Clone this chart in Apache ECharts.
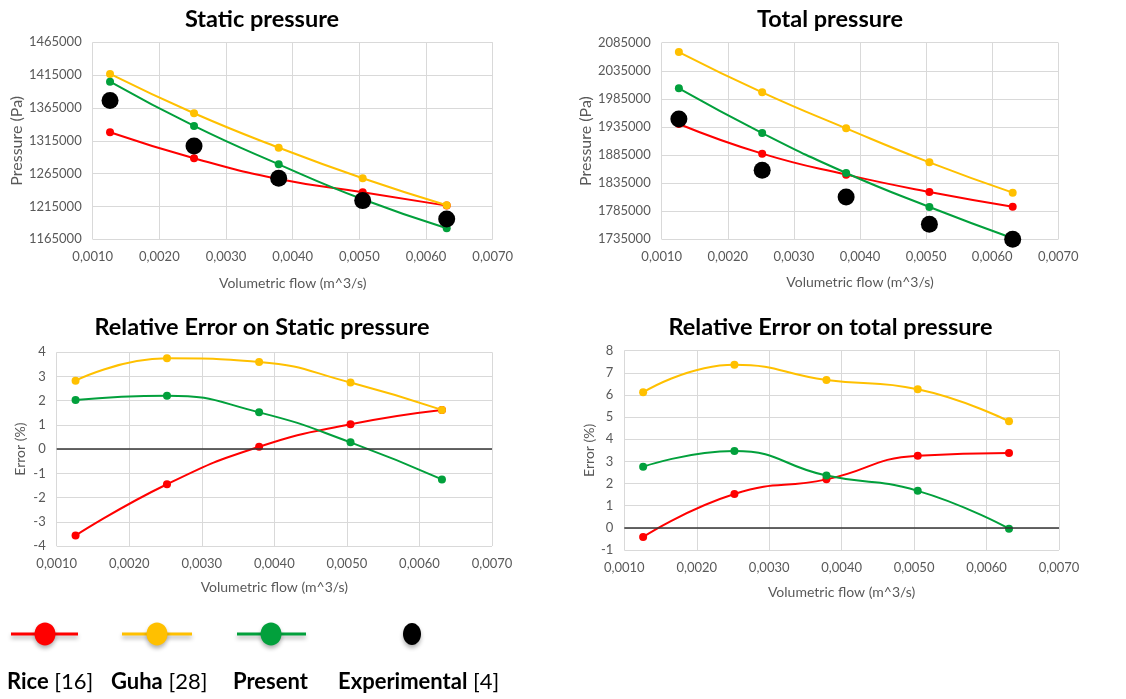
<!DOCTYPE html>
<html>
<head>
<meta charset="utf-8">
<script src="https://cdn.jsdelivr.net/npm/echarts@6/dist/echarts.min.js"></script>
<style>
html,body{margin:0;padding:0;background:#fff;}
#c{width:1126px;height:699px;}
</style>
</head>
<body>
<div id="c"></div>
<script>
// ---------- data ----------
const seriesNames = ['Rice', 'Guha', 'Present', 'Experimental'];
const seriesRefs = ['[16]', '[28]', '', '[4]'];
const xFlow = [0.00126, 0.00252, 0.00379, 0.00505, 0.00631];

const staticRice    = [1328000, 1288400, 1256900, 1236600, 1216300];
const staticGuha    = [1416800, 1356900, 1304600, 1257900, 1216800];
const staticPresent = [1405100, 1337600, 1279200, 1225900, 1181800];
const staticExp     = [1376200, 1307100, 1257900, 1223900, 1196000];

const totalRice    = [1940300, 1887500, 1850100, 1819300, 1793100];
const totalGuha    = [2068400, 1996600, 1932500, 1872000, 1818000];
const totalPresent = [2003700, 1924200, 1853100, 1792600, 1736800];
const totalExp     = [1949200, 1857800, 1810300, 1761700, 1735000];

const errStaticRice    = [-3.57, -1.45, 0.10, 1.03, 1.62];
const errStaticGuha    = [2.83, 3.75, 3.60, 2.75, 1.62];
const errStaticPresent = [2.03, 2.21, 1.52, 0.28, -1.25];

const errTotalRice    = [-0.41, 1.53, 2.19, 3.26, 3.38];
const errTotalGuha    = [6.12, 7.37, 6.68, 6.26, 4.81];
const errTotalPresent = [2.76, 3.47, 2.36, 1.67, -0.04];

const panelTitles = ['Static pressure', 'Total pressure', 'Relative Error on Static pressure', 'Relative Error on total pressure'];
const xAxisName = 'Volumetric flow (m^3/s)';
const yAxisNames = ['Pressure (Pa)', 'Pressure (Pa)', 'Error (%)', 'Error (%)'];
const xTickRange = [0.001, 0.007, 0.001];
const yTickRanges = [[1165000, 1465000, 50000], [1735000, 2085000, 50000], [-4, 4, 1], [-1, 8, 1]];

// ---------- styles ----------
const colors = ['#ff0000', '#ffc000', '#02a03c', '#000000'];
const FONT = 'Lato';
const labelGray = '#595959';
const gridGray = '#d9d9d9';

const grids = [
  {left: 92.7, top: 42.3, width: 400, height: 197},
  {left: 661.7, top: 42.7, width: 396.6, height: 196.6},
  {left: 56.7, top: 352.3, width: 435.3, height: 193.7},
  {left: 624.3, top: 350.7, width: 434.7, height: 199.3}
];
const xNameGaps = [37, 36, 34, 35];
const yNameGaps = [67, 64, 29, 28];
const yNameSizes = [16, 16, 14, 14];
const titlePos = [[262, 19], [830, 19], [262, 327], [830.5, 327]];

function pairs(vals) { return vals.map((v, i) => [xFlow[i], v]); }

const xAxes = grids.map((g, i) => ({
  type: 'value', gridIndex: i,
  min: xTickRange[0], max: xTickRange[1], interval: xTickRange[2],
  name: xAxisName, nameLocation: 'middle', nameGap: xNameGaps[i],
  nameTextStyle: {color: labelGray, fontFamily: FONT, fontSize: 14},
  axisLine: {show: false}, axisTick: {show: false},
  axisLabel: {color: labelGray, fontFamily: FONT, fontSize: 13, margin: 11,
    formatter: v => v.toFixed(4).replace('.', ',')},
  splitLine: {show: true, lineStyle: {color: gridGray, width: 1}}
}));

const yAxes = grids.map((g, i) => ({
  type: 'value', gridIndex: i,
  min: yTickRanges[i][0], max: yTickRanges[i][1], interval: yTickRanges[i][2],
  name: yAxisNames[i], nameLocation: 'middle', nameGap: yNameGaps[i], nameRotate: 90,
  nameTextStyle: {color: labelGray, fontFamily: FONT, fontSize: yNameSizes[i]},
  axisLine: {show: false}, axisTick: {show: false},
  axisLabel: {color: labelGray, fontFamily: FONT, fontSize: 13, margin: 11,
    formatter: v => String(Math.round(v))},
  splitLine: {show: true, lineStyle: {color: gridGray, width: 1}}
}));

function lineSeries(name, vals, ci, gi, extra) {
  return Object.assign({
    name: name, type: 'line', xAxisIndex: gi, yAxisIndex: gi,
    data: pairs(vals), smooth: 0.5,
    symbol: 'circle', symbolSize: 8, showSymbol: true,
    lineStyle: {color: colors[ci], width: 2},
    itemStyle: {color: colors[ci], opacity: 1},
    z: 2 + ci, silent: true, animation: false
  }, extra || {});
}
function expSeries(vals, gi) {
  return {
    name: seriesNames[3], type: 'scatter', xAxisIndex: gi, yAxisIndex: gi,
    data: pairs(vals), symbol: 'circle', symbolSize: 17,
    itemStyle: {color: colors[3], opacity: 1}, z: 6, silent: true, animation: false
  };
}
const zeroLine = {
  markLine: {
    silent: true, symbol: 'none', label: {show: false},
    lineStyle: {color: '#333333', type: 'solid', width: 1.5},
    data: [{yAxis: 0}], animation: false
  }
};

const series = [
  lineSeries(seriesNames[0], staticRice, 0, 0),
  lineSeries(seriesNames[1], staticGuha, 1, 0),
  lineSeries(seriesNames[2], staticPresent, 2, 0),
  expSeries(staticExp, 0),
  lineSeries(seriesNames[0], totalRice, 0, 1),
  lineSeries(seriesNames[1], totalGuha, 1, 1),
  lineSeries(seriesNames[2], totalPresent, 2, 1),
  expSeries(totalExp, 1),
  lineSeries(seriesNames[0], errStaticRice, 0, 2, zeroLine),
  lineSeries(seriesNames[1], errStaticGuha, 1, 2),
  lineSeries(seriesNames[2], errStaticPresent, 2, 2),
  lineSeries(seriesNames[0], errTotalRice, 0, 3, zeroLine),
  lineSeries(seriesNames[1], errTotalGuha, 1, 3),
  lineSeries(seriesNames[2], errTotalPresent, 2, 3)
];

// ---------- titles and legend (graphic) ----------
const graphics = [];
panelTitles.forEach((t, i) => {
  graphics.push({type: 'text', x: titlePos[i][0], y: titlePos[i][1], silent: true,
    style: {text: t, fill: '#000', font: 'bold 23.5px ' + FONT, textAlign: 'center', textVerticalAlign: 'middle'}});
});
const legendIcons = [
  {x1: 11, x2: 78, cx: 45},
  {x1: 122, x2: 192, cx: 157},
  {x1: 237, x2: 306, cx: 271},
  {x1: null, x2: null, cx: 412}
];
const legendTextX = [7, 111, 233, 338];
const legendY = 634;
const shadow = {shadowBlur: 4, shadowOffsetY: 3, shadowColor: 'rgba(0,0,0,0.3)'};
legendIcons.forEach((ic, i) => {
  if (ic.x1 !== null) {
    graphics.push({type: 'line', silent: true,
      shape: {x1: ic.x1, y1: legendY, x2: ic.x2, y2: legendY},
      style: Object.assign({stroke: colors[i], lineWidth: 3}, shadow)});
    graphics.push({type: 'ellipse', silent: true,
      shape: {cx: ic.cx, cy: legendY, rx: 10.5, ry: 11.5},
      style: Object.assign({fill: colors[i]}, shadow)});
  } else {
    graphics.push({type: 'ellipse', silent: true,
      shape: {cx: ic.cx, cy: legendY, rx: 9, ry: 11},
      style: Object.assign({fill: colors[i]}, shadow)});
  }
  const txt = '{b|' + seriesNames[i] + '}' + (seriesRefs[i] ? ' ' + seriesRefs[i] : '');
  graphics.push({type: 'text', x: legendTextX[i], y: 682, silent: true,
    style: {text: txt, fill: '#000', font: '22px ' + FONT, textVerticalAlign: 'middle',
      rich: {b: {fontWeight: 'bold', fontSize: 22, fontFamily: FONT, fill: '#000'}}}});
});

const chart = echarts.init(document.getElementById('c'), null, {renderer: 'canvas'});
chart.setOption({
  backgroundColor: '#ffffff',
  animation: false,
  grid: grids,
  xAxis: xAxes,
  yAxis: yAxes,
  series: series,
  graphic: graphics
});
</script>
</body>
</html>
